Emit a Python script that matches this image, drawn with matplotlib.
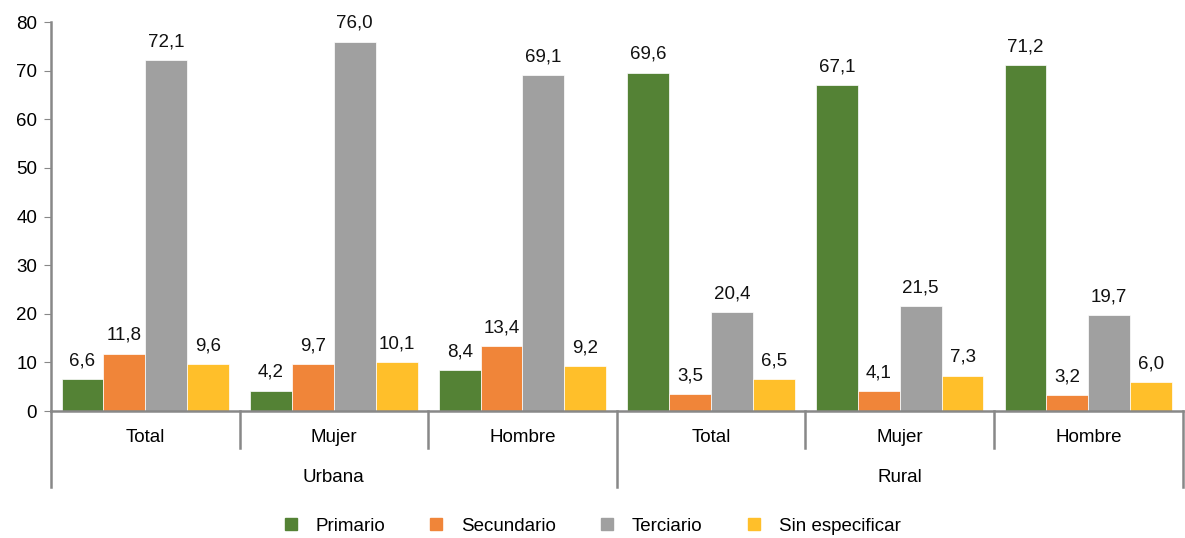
import numpy as np
import matplotlib
matplotlib.use("Agg")
import matplotlib.pyplot as plt
from matplotlib.patches import Patch

plt.rcParams['font.family'] = ['Liberation Sans', 'DejaVu Sans']

# Data
grupos = ['Total', 'Mujer', 'Hombre', 'Total', 'Mujer', 'Hombre']
areas = ['Urbana', 'Rural']
series = ['Primario', 'Secundario', 'Terciario', 'Sin especificar']
primario = [6.6, 4.2, 8.4, 69.6, 67.1, 71.2]
secundario = [11.8, 9.7, 13.4, 3.5, 4.1, 3.2]
terciario = [72.1, 76.0, 69.1, 20.4, 21.5, 19.7]
sin_especificar = [9.6, 10.1, 9.2, 6.5, 7.3, 6.0]

colores = ['#548235', '#F08539', '#A0A0A0', '#FFBF2A']
valores = [primario, secundario, terciario, sin_especificar]

fs = 13.5
fig = plt.figure(figsize=(11.85, 5.38), dpi=100)
ax = fig.add_axes([0.043, 0.236, 0.955, 0.723])

x = np.arange(len(grupos))
ancho = 0.222
for i, (vals, col) in enumerate(zip(valores, colores)):
    pos = x + (i - 1.5) * ancho
    ax.bar(pos, vals, width=ancho, color=col, edgecolor='white', linewidth=0.5)
    for p, v in zip(pos, vals):
        ax.text(p, v + 2.0, f'{v:.1f}'.replace('.', ','), ha='center', va='bottom',
                fontsize=fs, color='#111111')

ax.set_xlim(-0.5, 5.5)
ax.set_ylim(0, 80)
ax.set_yticks(range(0, 81, 10))
ax.tick_params(axis='y', labelsize=fs, length=5, color='#888888', pad=5)
ax.set_xticks([])
for s in ['top', 'right']:
    ax.spines[s].set_visible(False)
for s in ['left', 'bottom']:
    ax.spines[s].set_color('#888888')
    ax.spines[s].set_linewidth(1.8)

# Category axis: separators and labels below the plot
trans = ax.get_xaxis_transform()
for b in [0.5, 1.5, 3.5, 4.5]:
    ax.plot([b, b], [0, -0.095], transform=trans, color='#888888', lw=1.8, clip_on=False)
for b in [-0.5, 2.5, 5.5]:
    ax.plot([b, b], [0, -0.195], transform=trans, color='#888888', lw=1.8, clip_on=False)
for xi, g in zip(x, grupos):
    ax.text(xi, -0.069, g, transform=trans, ha='center', va='center', fontsize=fs)
for xi, a in zip([1, 4], areas):
    ax.text(xi, -0.17, a, transform=trans, ha='center', va='center', fontsize=fs)

handles = [Patch(color=c, label=s) for c, s in zip(colores, series)]
fig.legend(handles=handles, loc='lower center', ncol=4, frameon=False,
           fontsize=fs, bbox_to_anchor=(0.5, -0.025), handlelength=0.65,
           handleheight=0.65, columnspacing=2.4, handletextpad=1.0)

fig.savefig('out.png', dpi=100)
